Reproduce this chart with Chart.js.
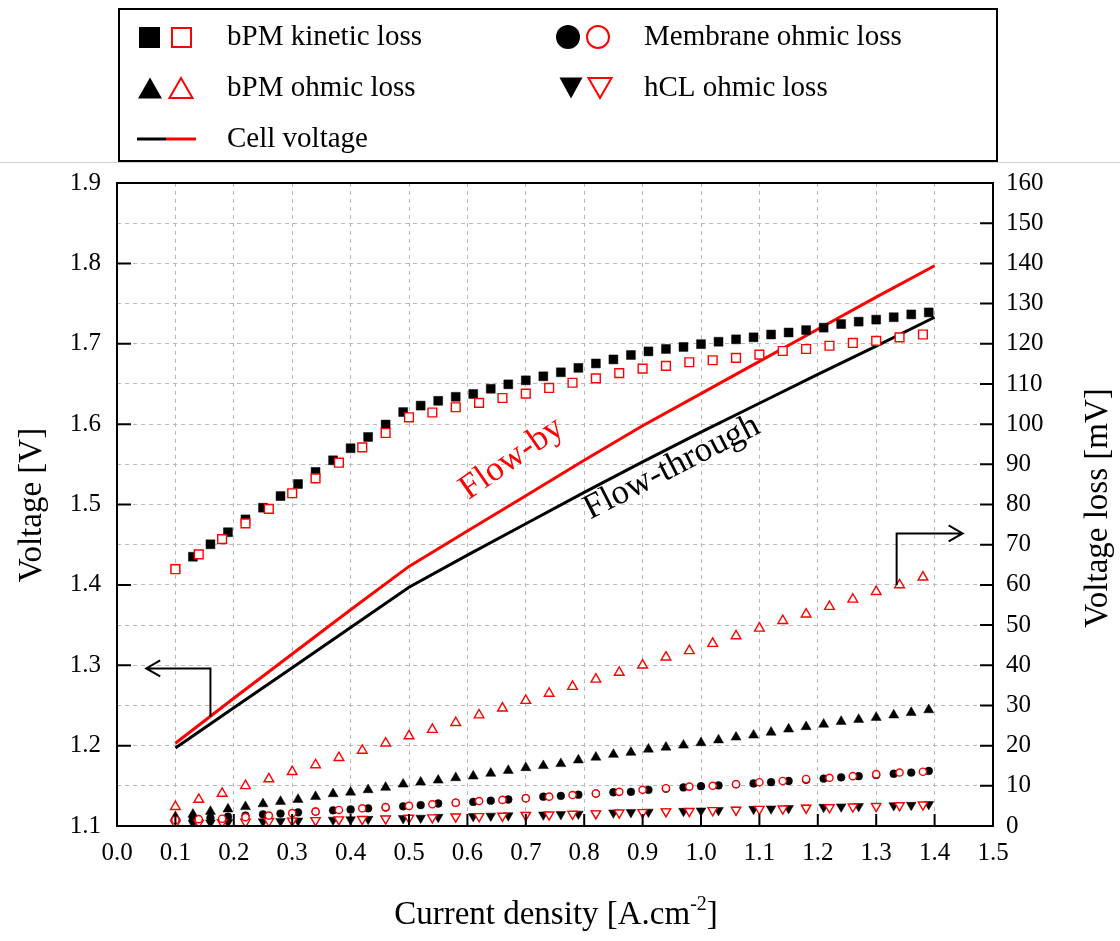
<!DOCTYPE html>
<html><head><meta charset="utf-8">
<script src="https://cdn.jsdelivr.net/npm/chart.js@4.4.0/dist/chart.umd.min.js"></script>
<style>html,body{margin:0;padding:0;background:#fff;overflow:hidden}</style>
</head><body>
<canvas id="c" width="1120" height="941" style="display:block;width:1120px;height:941px"></canvas>
<script>
// ---------- data ----------
const xFT = [0.10,0.13,0.16,0.19,0.22,0.25,0.28,0.31,0.34,0.37,0.40,0.43,0.46,0.49,0.52,0.55,0.58,0.61,0.64,0.67,0.70,0.73,0.76,0.79,0.82,0.85,0.88,0.91,0.94,0.97,1.00,1.03,1.06,1.09,1.12,1.15,1.18,1.21,1.24,1.27,1.30,1.33,1.36,1.39];
const xFB = [0.10,0.14,0.18,0.22,0.26,0.30,0.34,0.38,0.42,0.46,0.50,0.54,0.58,0.62,0.66,0.70,0.74,0.78,0.82,0.86,0.90,0.94,0.98,1.02,1.06,1.10,1.14,1.18,1.22,1.26,1.30,1.34,1.38];
const xLine = [0.1,0.2,0.3,0.4,0.5,0.6,0.7,0.8,0.9,1.0,1.1,1.2,1.3,1.4];

// flow-through (black, filled)
const ftKinetic = [64.0,67.0,70.1,73.1,76.3,79.2,82.1,85.1,88.1,91.0,94.0,96.8,99.9,103.0,104.6,105.8,106.8,107.5,108.8,109.9,110.9,111.9,112.9,114.0,115.1,116.1,117.2,118.1,118.7,119.2,119.9,120.5,121.1,121.6,122.3,122.8,123.4,124.0,124.9,125.5,126.0,126.6,127.3,127.8];
const ftBpmOhmic = [2.3,2.9,3.6,4.2,4.8,5.5,6.1,6.6,7.3,8.0,8.4,9.0,9.6,10.4,10.9,11.4,12.0,12.4,13.1,13.8,14.5,15.0,15.5,16.4,17.1,17.8,18.3,19.1,19.6,20.1,20.7,21.4,22.1,22.6,23.3,24.1,24.7,25.3,26.0,26.5,27.0,27.6,28.2,28.9];
const ftMembrane = [1.5,1.8,2.0,2.3,2.6,2.9,3.1,3.4,3.6,3.9,4.1,4.4,4.6,4.9,5.2,5.6,5.8,6.0,6.3,6.6,6.9,7.3,7.5,7.8,8.1,8.4,8.5,9.0,9.3,9.6,9.9,10.1,10.4,10.6,10.9,11.2,11.5,11.8,12.1,12.4,12.7,13.0,13.3,13.7];
const ftHcl = [0.6,0.7,0.8,0.9,1.0,1.1,1.2,1.3,1.4,1.5,1.6,1.7,1.8,1.9,2.0,2.2,2.3,2.4,2.5,2.6,2.7,2.8,2.9,3.0,3.1,3.3,3.4,3.5,3.6,3.7,3.8,3.9,4.0,4.2,4.3,4.4,4.5,4.7,4.8,4.9,5.0,5.1,5.2,5.4];
const ftCell = [1.197,1.247,1.297,1.347,1.397,1.437,1.476,1.515,1.553,1.590,1.626,1.662,1.697,1.733];

// flow-by (red, open)
const fbKinetic = [63.9,67.6,71.4,75.3,78.9,82.8,86.5,90.4,94.2,97.8,101.7,102.9,104.2,105.3,106.5,107.6,109.0,110.3,111.4,112.7,113.8,114.5,115.4,115.9,116.5,117.3,118.2,118.7,119.5,120.2,120.7,121.6,122.3];
const fbBpmOhmic = [4.8,6.6,8.1,10.0,11.7,13.5,15.2,17.0,18.8,20.6,22.4,24.0,25.7,27.6,29.3,31.2,33.0,34.7,36.5,38.2,40.0,42.0,43.6,45.4,47.3,49.2,51.1,52.7,54.6,56.4,58.3,60.0,61.9];
const fbMembrane = [1.5,1.7,1.8,2.2,2.6,3.2,3.6,4.0,4.4,4.7,5.0,5.4,5.8,6.2,6.5,6.9,7.3,7.7,8.1,8.5,9.0,9.4,9.8,10.0,10.4,10.9,11.2,11.7,12.0,12.4,12.9,13.3,13.5];
const fbHcl = [0.6,0.8,0.9,1.0,1.2,1.3,1.4,1.6,1.7,1.8,2.0,2.1,2.3,2.4,2.5,2.7,2.8,3.0,3.1,3.3,3.4,3.6,3.7,3.9,4.0,4.2,4.3,4.5,4.6,4.8,4.9,5.1,5.3];
const fbCell = [1.203,1.259,1.314,1.369,1.423,1.467,1.511,1.555,1.598,1.638,1.678,1.718,1.758,1.797];

const legendLabels = ["bPM kinetic loss","Membrane ohmic loss","bPM ohmic loss","hCL ohmic loss","Cell voltage"];
const axisTitles = {left:"Voltage [V]", right:"Voltage loss [mV]", bottom:"Current density [A.cm", sup:"-2"};
const notes = {
  flowBy:{text:"Flow-by", x:0.676, y:1.557, angle:-35, color:"#ff0000"},
  flowThrough:{text:"Flow-through", x:0.950, y:1.546, angle:-27, color:"#000000"},
  leftArrow:{x:0.16, y0:1.236, y1:1.296, tip:0.05},
  rightArrow:{x:1.335, y0:60, y1:72.8, tip:1.448}
};

// ---------- chart ----------
const FONT = "'Liberation Serif','Times New Roman',serif";
const RED = "#ff0000";
const pts = (xs, ys) => xs.map((x,i)=>({x:x, y:ys[i]}));

function mk(label, xs, ys, axis, style, filled, color, r, rot, order){
  return {label, data: pts(xs,ys), yAxisID: axis, showLine:false, pointStyle: style,
    pointRotation: rot||0, pointRadius:r, pointHoverRadius:r,
    pointBackgroundColor: filled ? color : "#ffffff", pointBorderColor: color,
    pointBorderWidth: filled ? 0.5 : 1.4, order: order};
}

const datasets = [
  mk("fbKinetic", xFB, fbKinetic, "y2", "rect", false, RED, 6.2, 0, 0),
  mk("fbBpmOhmic", xFB, fbBpmOhmic, "y2", "triangle", false, RED, 5.6, 0, 0),
  mk("fbMembrane", xFB, fbMembrane, "y2", "circle", false, RED, 3.6, 0, 0),
  mk("fbHcl", xFB, fbHcl, "y2", "triangle", false, RED, 5.4, 180, 0),
  mk("ftKinetic", xFT, ftKinetic, "y2", "rect", true, "#000", 6.3, 0, 1),
  mk("ftBpmOhmic", xFT, ftBpmOhmic, "y2", "triangle", true, "#000", 5.8, 0, 1),
  mk("ftMembrane", xFT, ftMembrane, "y2", "circle", true, "#000", 3.9, 0, 1),
  mk("ftHcl", xFT, ftHcl, "y2", "triangle", true, "#000", 5.6, 180, 1),
  {label:"fbCell", data: pts(xLine, fbCell), yAxisID:"y", showLine:true, borderColor:RED, borderWidth:3, pointRadius:0, tension:0, order:2},
  {label:"ftCell", data: pts(xLine, ftCell), yAxisID:"y", showLine:true, borderColor:"#000", borderWidth:3, pointRadius:0, tension:0, order:2}
];

function tri(ctx,x,y,w,h,down,fill,stroke){
  ctx.beginPath();
  if(!down){ctx.moveTo(x,y-h/2);ctx.lineTo(x+w/2,y+h/2);ctx.lineTo(x-w/2,y+h/2);}
  else {ctx.moveTo(x,y+h/2);ctx.lineTo(x+w/2,y-h/2);ctx.lineTo(x-w/2,y-h/2);}
  ctx.closePath();
  if(fill){ctx.fillStyle=fill;ctx.fill();}
  if(stroke){ctx.strokeStyle=stroke;ctx.lineWidth=2;ctx.stroke();}
}

const decor = {
  id:"decor",
  afterDraw(chart){
    const ctx = chart.ctx, a = chart.chartArea;
    const X = chart.scales.x, Y = chart.scales.y, Y2 = chart.scales.y2;
    ctx.save();
    // frame
    ctx.strokeStyle="#000"; ctx.lineWidth=2;
    ctx.strokeRect(a.left, a.top, a.right-a.left, a.bottom-a.top);
    // inward ticks
    ctx.beginPath();
    Y.ticks.forEach(t=>{const p=Y.getPixelForValue(t.value); ctx.moveTo(a.left,p); ctx.lineTo(a.left+14,p);});
    Y2.ticks.forEach(t=>{const p=Y2.getPixelForValue(t.value); ctx.moveTo(a.right,p); ctx.lineTo(a.right-13,p);});
    X.ticks.forEach(t=>{const p=X.getPixelForValue(t.value); ctx.moveTo(p,a.bottom); ctx.lineTo(p,a.bottom-12);});
    ctx.stroke();

    // arrows
    ctx.lineWidth=2;
    const la = notes.leftArrow, ra = notes.rightArrow;
    let ax = X.getPixelForValue(la.x), ay0 = Y.getPixelForValue(la.y0), ay1 = Y.getPixelForValue(la.y1), tip = X.getPixelForValue(la.tip);
    ctx.beginPath(); ctx.moveTo(ax,ay0); ctx.lineTo(ax,ay1); ctx.lineTo(tip,ay1);
    ctx.moveTo(tip+14,ay1-8); ctx.lineTo(tip,ay1); ctx.lineTo(tip+14,ay1+8); ctx.stroke();
    ax = X.getPixelForValue(ra.x); ay0 = Y2.getPixelForValue(ra.y0); ay1 = Y2.getPixelForValue(ra.y1); tip = X.getPixelForValue(ra.tip);
    ctx.beginPath(); ctx.moveTo(ax,ay0); ctx.lineTo(ax,ay1); ctx.lineTo(tip,ay1);
    ctx.moveTo(tip-14,ay1-8); ctx.lineTo(tip,ay1); ctx.lineTo(tip-14,ay1+8); ctx.stroke();

    // annotations
    [notes.flowBy, notes.flowThrough].forEach(n=>{
      ctx.save();
      ctx.translate(X.getPixelForValue(n.x), Y.getPixelForValue(n.y));
      ctx.rotate(n.angle*Math.PI/180);
      ctx.fillStyle=n.color; ctx.font="35px "+FONT; ctx.textAlign="center"; ctx.textBaseline="middle";
      ctx.fillText(n.text,0,0);
      ctx.restore();
    });

    // axis titles
    ctx.fillStyle="#000"; ctx.font="33px "+FONT; ctx.textAlign="center"; ctx.textBaseline="middle";
    ctx.save(); ctx.translate(32,505); ctx.rotate(-Math.PI/2); ctx.fillText(axisTitles.left,0,0); ctx.restore();
    ctx.save(); ctx.translate(1098,508); ctx.rotate(-Math.PI/2); ctx.fillText(axisTitles.right,0,0); ctx.restore();
    // bottom title with superscript
    ctx.textBaseline="alphabetic"; ctx.textAlign="left";
    ctx.font="33px "+FONT; const w1 = ctx.measureText(axisTitles.bottom).width;
    ctx.font="20px "+FONT; const w2 = ctx.measureText(axisTitles.sup).width;
    ctx.font="33px "+FONT; const w3 = ctx.measureText("]").width;
    let sx = 556 - (w1+w2+w3)/2, by = 924;
    ctx.fillText(axisTitles.bottom, sx, by);
    ctx.font="20px "+FONT; ctx.fillText(axisTitles.sup, sx+w1, by-14);
    ctx.font="33px "+FONT; ctx.fillText("]", sx+w1+w2, by);

    // legend
    ctx.strokeStyle="#cfcfcf"; ctx.lineWidth=1;
    ctx.beginPath(); ctx.moveTo(0,162.5); ctx.lineTo(1120,162.5); ctx.stroke();
    ctx.strokeStyle="#000"; ctx.lineWidth=2;
    ctx.strokeRect(119,9,878,152);
    const r1=37, r2=88, r3=139;
    ctx.fillStyle="#000"; ctx.fillRect(139,27,21,21);
    ctx.strokeStyle=RED; ctx.lineWidth=2; ctx.strokeRect(172,28,19,19);
    ctx.fillStyle="#000"; ctx.beginPath(); ctx.arc(568,r1,12,0,Math.PI*2); ctx.fill();
    ctx.strokeStyle=RED; ctx.beginPath(); ctx.arc(598,r1,11,0,Math.PI*2); ctx.stroke();
    tri(ctx,150,r2,24,21,false,"#000",null);
    tri(ctx,181,r2,23,20,false,null,RED);
    tri(ctx,571,r2,23,21,true,"#000",null);
    tri(ctx,600,r2,23,20,true,null,RED);
    ctx.lineWidth=3;
    ctx.strokeStyle="#000"; ctx.beginPath(); ctx.moveTo(137,r3); ctx.lineTo(166,r3); ctx.stroke();
    ctx.strokeStyle=RED; ctx.beginPath(); ctx.moveTo(166,r3); ctx.lineTo(196,r3); ctx.stroke();
    ctx.fillStyle="#000"; ctx.font="29px "+FONT; ctx.textAlign="left"; ctx.textBaseline="middle";
    ctx.fillText(legendLabels[0],227,r1); ctx.fillText(legendLabels[1],644,r1);
    ctx.fillText(legendLabels[2],227,r2); ctx.fillText(legendLabels[3],644,r2);
    ctx.fillText(legendLabels[4],227,r3);
    ctx.restore();
  }
};

const tickFont = {family: FONT, size: 25};
new Chart(document.getElementById("c"), {
  type: "scatter",
  data: {datasets},
  options: {
    responsive:false, animation:false, devicePixelRatio:1,
    layout:{padding:{top:183,left:0,right:0,bottom:0}},
    plugins:{legend:{display:false}, tooltip:{enabled:false}},
    events:[],
    scales:{
      x:{type:"linear", min:0, max:1.5,
        ticks:{stepSize:0.1, color:"#000", font:tickFont, padding:12, maxRotation:0, autoSkip:false, callback:v=>v.toFixed(1)},
        grid:{color:"#b8b8b8", lineWidth:1, drawTicks:false},
        border:{display:false, dash:[4,4]},
        afterFit(s){s.height=115;}},
      y:{type:"linear", position:"left", min:1.1, max:1.9,
        ticks:{stepSize:0.1, color:"#000", font:tickFont, padding:16, callback:v=>v.toFixed(1)},
        grid:{display:false, drawTicks:false},
        border:{display:false},
        afterFit(s){s.width=117;}},
      y2:{type:"linear", position:"right", min:0, max:160,
        ticks:{stepSize:10, color:"#000", font:tickFont, padding:13},
        grid:{color:"#b8b8b8", lineWidth:1, drawTicks:false},
        border:{display:false, dash:[4,4]},
        afterFit(s){s.width=127;}}
    }
  },
  plugins:[decor]
});
</script>
</body></html>
